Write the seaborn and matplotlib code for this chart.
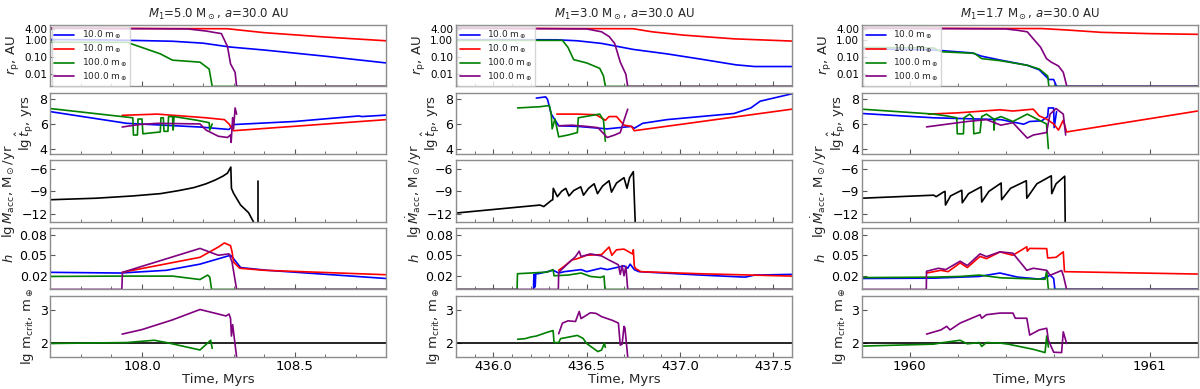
import numpy as np
import matplotlib
matplotlib.use("Agg")
import matplotlib.pyplot as plt
from matplotlib.ticker import FormatStrFormatter, AutoMinorLocator, NullLocator
import seaborn as sns

# ── panel text / axes ranges ────────────────────────────────────────────────
titles = [r"$M_1$=5.0 M$_\odot$, $a$=30.0 AU",
          r"$M_1$=3.0 M$_\odot$, $a$=30.0 AU",
          r"$M_1$=1.7 M$_\odot$, $a$=30.0 AU"]
xlims = [(107.70, 108.80), (435.80, 437.60), (1959.80, 1961.20)]
xticks = [[108.0, 108.5], [436.0, 436.5, 437.0, 437.5], [1960, 1961]]
xticklabels = [["108.0", "108.5"], ["436.0", "436.5", "437.0", "437.5"], ["1960", "1961"]]
legend_labels = [r"10.0 m$_\oplus$", r"10.0 m$_\oplus$", r"100.0 m$_\oplus$", r"100.0 m$_\oplus$"]
ylabels = [r"$r_{\rm p}$, AU", r"$\lg\hat{t}_{\rm p}$, yrs",
           r"$\lg\dot{M}_{\rm acc}$, M$_\odot$/yr", r"$h$",
           r"$\lg\,$m$_{\rm crit}$, m$_\oplus$"]
ylims = [(0.002, 7.0), (3.55, 8.55), (-13.0, -4.9), (0.0, 0.09), (1.55, 3.45)]
yticks = [[0.01, 0.1, 1.0, 4.0], [4, 6, 8], [-12, -9, -6], [0.02, 0.05, 0.08], [2, 3]]
m_crit_ref = 2.0

# ── column 1: M1 = 5.0 ──────────────────────────────────────────────────────
c1_rp_blue = [(107.70, 1.0), (107.90, 0.95), (108.10, 0.8), (108.20, 0.62), (108.29, 0.37),
              (108.40, 0.25), (108.60, 0.11), (108.80, 0.045)]
c1_rp_red = [(107.70, 4.5), (108.28, 4.2), (108.40, 2.5), (108.60, 1.4), (108.80, 0.85)]
c1_rp_green = [(107.70, 0.7), (107.95, 0.7), (108.00, 0.35), (108.06, 0.15), (108.10, 0.065),
               (108.19, 0.05), (108.22, 0.02), (108.23, 0.002), (108.80, 0.002)]
c1_rp_purple = [(107.70, 4.5), (108.15, 4.1), (108.21, 3.1), (108.26, 2.2), (108.28, 0.4),
                (108.29, 0.04), (108.305, 0.013), (108.31, 0.002), (108.80, 0.002)]

c1_tp_blue = [(107.70, 7.0), (107.95, 6.05), (108.19, 5.75), (108.285, 5.55), (108.30, 5.95),
              (108.50, 6.2), (108.71, 6.65), (108.72, 6.6), (108.80, 6.72)]
c1_tp_red = [(107.935, 6.7), (108.05, 6.8), (108.21, 6.5), (108.27, 6.35), (108.285, 6.0),
             (108.295, 5.6), (108.30, 5.45), (108.80, 6.35)]
c1_tp_green = [(107.70, 7.25), (107.97, 6.5), (107.972, 5.1), (107.985, 5.1), (107.987, 6.4),
               (108.00, 6.4), (108.003, 5.2), (108.06, 5.35), (108.062, 6.5), (108.07, 6.5),
               (108.072, 5.4), (108.085, 5.4), (108.087, 6.6), (108.10, 6.6), (108.102, 5.5),
               (108.105, 6.6), (108.18, 6.3), (108.22, 6.1), (108.222, 5.5), (108.23, 6.0)]
c1_tp_purple = [(107.935, 5.75), (107.99, 5.95), (108.05, 6.05), (108.19, 6.0), (108.21, 5.5),
                (108.25, 5.0), (108.28, 4.9), (108.29, 5.1), (108.292, 4.5), (108.297, 6.5),
                (108.30, 5.6), (108.305, 7.3), (108.31, 6.8)]

c1_mdot = [(107.70, -10.1), (107.85, -9.9), (107.97, -9.6), (108.06, -9.3), (108.12, -8.9),
           (108.17, -8.5), (108.21, -8.0), (108.24, -7.5), (108.265, -7.0), (108.28, -6.6),
           (108.291, -5.8), (108.293, -8.6), (108.30, -9.25), (108.323, -10.8),
           (108.349, -11.8), (108.365, -13.0)]
c1_mdot_tail = [(108.381, -7.6), (108.381, -13.0)]

c1_h_blue = [(107.70, 0.025), (107.93, 0.024), (108.08, 0.028), (108.19, 0.037), (108.29, 0.050),
             (108.30, 0.045), (108.323, 0.032), (108.41, 0.028), (108.80, 0.016)]
c1_h_red = [(107.935, 0.025), (108.19, 0.047), (108.25, 0.062), (108.27, 0.068), (108.29, 0.064),
            (108.295, 0.055), (108.30, 0.040), (108.32, 0.031), (108.40, 0.028), (108.80, 0.0215)]
c1_h_green = [(107.70, 0.019), (107.93, 0.0195), (108.10, 0.0195), (108.19, 0.0145), (108.215, 0.021),
              (108.222, 0.018), (108.228, 0.0), (108.80, 0.0)]
c1_h_purple = [(107.70, 0.0), (107.934, 0.0), (107.936, 0.025), (108.19, 0.060), (108.25, 0.050),
               (108.285, 0.052), (108.295, 0.040), (108.31, 0.0), (108.80, 0.0)]

c1_m_green = [(107.70, 1.97), (107.95, 2.0), (108.04, 2.07), (108.08, 2.0), (108.19, 1.77),
              (108.225, 2.07), (108.23, 1.82)]
c1_m_purple = [(107.935, 2.26), (108.00, 2.4), (108.10, 2.7), (108.19, 3.02), (108.25, 2.88),
               (108.275, 2.82), (108.285, 2.88), (108.29, 2.75), (108.293, 2.2), (108.297, 2.55),
               (108.31, 1.55)]

# ── column 2: M1 = 3.0 ──────────────────────────────────────────────────────
c2_rp_blue = [(435.80, 1.0), (436.34, 0.97), (436.45, 0.85), (436.58, 0.6), (436.75, 0.27),
              (436.93, 0.15), (437.11, 0.075), (437.30, 0.035), (437.40, 0.028), (437.60, 0.028)]
c2_rp_red = [(435.80, 4.5), (436.75, 4.2), (436.85, 2.8), (437.02, 1.8), (437.29, 1.1), (437.60, 0.82)]
c2_rp_green = [(435.80, 0.9), (436.37, 0.9), (436.40, 0.35), (436.43, 0.07), (436.50, 0.045),
               (436.57, 0.022), (436.59, 0.008), (436.60, 0.002), (437.60, 0.002)]
c2_rp_purple = [(435.80, 4.5), (436.50, 4.1), (436.58, 2.8), (436.62, 1.5), (436.65, 0.6),
                (436.68, 0.05), (436.71, 0.01), (436.72, 0.002), (437.60, 0.002)]

c2_tp_blue = [(436.23, 8.1), (436.28, 8.2), (436.29, 8.0), (436.31, 6.8), (436.35, 5.85),
              (436.45, 5.8), (436.61, 5.6), (436.74, 5.8), (436.755, 5.65), (436.80, 6.05),
              (436.93, 6.35), (437.29, 6.85), (437.38, 7.3), (437.43, 7.85), (437.60, 8.45)]
c2_tp_red = [(436.34, 6.8), (436.45, 6.8), (436.55, 6.75), (436.60, 6.3), (436.62, 6.6),
             (436.66, 6.6), (436.70, 5.9), (436.74, 5.8), (436.755, 5.45), (437.60, 7.2)]
c2_tp_green = [(436.13, 7.3), (436.25, 7.4), (436.30, 7.5), (436.31, 6.8), (436.315, 5.6),
               (436.33, 6.4), (436.35, 4.95), (436.40, 5.1), (436.45, 5.3), (436.455, 6.5),
               (436.53, 6.7), (436.57, 6.8), (436.59, 6.3), (436.60, 4.6)]
c2_tp_purple = [(436.35, 5.85), (436.42, 5.9), (436.50, 5.8), (436.56, 5.7), (436.61, 4.9),
                (436.65, 5.1), (436.68, 5.3), (436.70, 6.3), (436.72, 7.2)]

c2_mdot = [(435.80, -11.85), (436.25, -10.8), (436.27, -11.0), (436.31, -10.2), (436.318, -10.1),
           (436.321, -8.6), (436.343, -9.7), (436.365, -9.0), (436.388, -8.6), (436.405, -9.6),
           (436.43, -8.9), (436.468, -8.4), (436.483, -9.5), (436.51, -8.6), (436.54, -8.0),
           (436.558, -9.3), (436.585, -8.3), (436.62, -7.6), (436.633, -9.1), (436.66, -7.9),
           (436.70, -7.2), (436.716, -8.6), (436.73, -7.2), (436.75, -6.4), (436.76, -13.0)]

c2_h_blue = [(436.215, 0.0), (436.217, 0.022), (436.219, 0.003), (436.222, 0.022), (436.224, 0.004),
             (436.227, 0.023), (436.24, 0.023), (436.29, 0.026), (436.32, 0.028), (436.35, 0.024),
             (436.38, 0.026), (436.47, 0.029), (436.50, 0.026), (436.576, 0.031), (436.61, 0.029),
             (436.70, 0.0345), (436.72, 0.031), (436.733, 0.037), (436.755, 0.029), (436.78, 0.026),
             (437.11, 0.021), (437.35, 0.018), (437.40, 0.021), (437.60, 0.022)]
c2_h_red = [(436.35, 0.028), (436.38, 0.034), (436.42, 0.043), (436.45, 0.045), (436.50, 0.050),
            (436.58, 0.051), (436.62, 0.062), (436.635, 0.050), (436.66, 0.058), (436.70, 0.059),
            (436.745, 0.052), (436.75, 0.058), (436.755, 0.035), (436.76, 0.031), (436.79, 0.026),
            (437.10, 0.023), (437.60, 0.0195)]
c2_h_green = [(435.80, 0.0), (436.127, 0.0), (436.129, 0.023), (436.20, 0.024), (436.29, 0.0255),
              (436.32, 0.029), (436.325, 0.020), (436.40, 0.021), (436.47, 0.024), (436.52, 0.019),
              (436.575, 0.0175), (436.593, 0.0195), (436.598, 0.0), (437.60, 0.0)]
c2_h_purple = [(435.80, 0.0), (436.348, 0.0), (436.35, 0.025), (436.40, 0.038), (436.44, 0.048),
               (436.46, 0.056), (436.47, 0.048), (436.52, 0.052), (436.58, 0.049), (436.62, 0.043),
               (436.67, 0.036), (436.68, 0.022), (436.69, 0.035), (436.70, 0.020), (436.71, 0.034),
               (436.72, 0.0), (437.60, 0.0)]

c2_m_green = [(436.13, 2.1), (436.17, 2.12), (436.20, 2.17), (436.23, 2.2), (436.29, 2.32),
              (436.32, 2.37), (436.325, 2.0), (436.35, 2.0), (436.36, 2.12), (436.45, 2.22),
              (436.48, 2.13), (436.50, 1.97), (436.56, 1.72), (436.58, 1.77), (436.595, 1.98),
              (436.60, 1.85)]
c2_m_purple = [(436.35, 2.27), (436.37, 2.6), (436.40, 2.67), (436.44, 2.65), (436.46, 2.96),
               (436.47, 2.74), (436.52, 2.92), (436.55, 2.9), (436.58, 2.8), (436.64, 2.68),
               (436.67, 2.6), (436.68, 1.92), (436.69, 1.95), (436.70, 2.5), (436.705, 2.45),
               (436.72, 1.55)]

# ── column 3: M1 = 1.7 ──────────────────────────────────────────────────────
c3_rp_blue = [(1959.8, 0.3), (1960.10, 0.25), (1960.26, 0.17), (1960.30, 0.11), (1960.38, 0.065),
              (1960.49, 0.033), (1960.54, 0.018), (1960.58, 0.005), (1960.60, 0.005),
              (1960.612, 0.002), (1961.2, 0.002)]
c3_rp_red = [(1959.8, 4.5), (1960.55, 4.3), (1960.65, 3.6), (1960.80, 2.6), (1961.0, 2.2), (1961.2, 2.0)]
c3_rp_green = [(1959.8, 0.35), (1960.10, 0.33), (1960.13, 0.2), (1960.27, 0.16), (1960.30, 0.08),
               (1960.38, 0.06), (1960.49, 0.033), (1960.54, 0.02), (1960.575, 0.008),
               (1960.58, 0.002), (1961.2, 0.002)]
c3_rp_purple = [(1959.8, 4.5), (1960.40, 4.1), (1960.45, 3.4), (1960.49, 2.8), (1960.515, 1.1),
                (1960.545, 0.37), (1960.57, 0.08), (1960.59, 0.05), (1960.62, 0.03), (1960.64, 0.013),
                (1960.655, 0.002), (1961.2, 0.002)]

c3_tp_blue = [(1959.8, 6.85), (1960.10, 6.5), (1960.38, 6.35), (1960.475, 5.98), (1960.50, 6.2),
              (1960.55, 6.25), (1960.575, 6.6), (1960.578, 7.3), (1960.60, 7.3), (1960.602, 5.7),
              (1960.612, 7.0)]
c3_tp_red = [(1960.078, 6.8), (1960.20, 6.9), (1960.376, 7.15), (1960.43, 7.05), (1960.515, 7.2),
             (1960.54, 6.65), (1960.57, 6.4), (1960.60, 6.0), (1960.62, 5.5), (1960.64, 6.3),
             (1960.654, 5.35), (1961.2, 7.05)]
c3_tp_green = [(1959.8, 7.2), (1960.10, 6.8), (1960.154, 6.65), (1960.196, 6.5), (1960.198, 5.2),
               (1960.224, 5.2), (1960.226, 6.5), (1960.25, 6.8), (1960.265, 6.5), (1960.267, 5.2),
               (1960.293, 5.3), (1960.30, 6.6), (1960.32, 6.8), (1960.35, 6.4), (1960.351, 5.5),
               (1960.355, 6.4), (1960.38, 6.6), (1960.43, 6.2), (1960.49, 6.8), (1960.54, 6.3),
               (1960.57, 6.0), (1960.578, 4.0)]
c3_tp_purple = [(1960.07, 5.76), (1960.24, 6.2), (1960.32, 6.35), (1960.38, 5.9), (1960.43, 6.1),
                (1960.49, 4.85), (1960.515, 5.1), (1960.57, 5.3), (1960.585, 6.8), (1960.61, 7.25),
                (1960.64, 6.8), (1960.65, 5.1)]

c3_mdot = [(1959.8, -9.9), (1960.10, -9.5), (1960.11, -9.7), (1960.14, -9.1), (1960.147, -9.0),
           (1960.149, -10.8), (1960.17, -9.6), (1960.217, -8.85), (1960.219, -10.5), (1960.245, -9.3),
           (1960.298, -8.4), (1960.30, -10.4), (1960.33, -9.0), (1960.381, -7.9), (1960.383, -10.1),
           (1960.42, -8.6), (1960.486, -7.6), (1960.488, -9.9), (1960.53, -8.0), (1960.590, -6.95),
           (1960.592, -9.3), (1960.61, -8.0), (1960.646, -7.0), (1960.648, -13.0)]

c3_h_blue = [(1959.8, 0.016), (1960.10, 0.0165), (1960.29, 0.019), (1960.376, 0.024), (1960.45, 0.018),
             (1960.515, 0.016), (1960.54, 0.015), (1960.571, 0.018), (1960.585, 0.021), (1960.60, 0.016),
             (1960.605, 0.0), (1961.2, 0.0)]
c3_h_red = [(1960.07, 0.024), (1960.13, 0.028), (1960.16, 0.026), (1960.21, 0.0388), (1960.24, 0.032),
            (1960.293, 0.0483), (1960.32, 0.045), (1960.376, 0.0549), (1960.43, 0.050),
            (1960.488, 0.0624), (1960.49, 0.056), (1960.50, 0.060), (1960.571, 0.0597),
            (1960.575, 0.046), (1960.61, 0.047), (1960.64, 0.055), (1960.645, 0.026), (1961.2, 0.0225)]
c3_h_green = [(1959.8, 0.0173), (1960.10, 0.018), (1960.21, 0.019), (1960.29, 0.021), (1960.38, 0.017),
              (1960.515, 0.0153), (1960.564, 0.0148), (1960.571, 0.027), (1960.578, 0.0), (1961.2, 0.0)]
c3_h_purple = [(1959.8, 0.0), (1960.069, 0.0), (1960.07, 0.0266), (1960.12, 0.031), (1960.15, 0.029),
               (1960.21, 0.0413), (1960.24, 0.035), (1960.293, 0.052), (1960.32, 0.048),
               (1960.376, 0.055), (1960.43, 0.053), (1960.488, 0.028), (1960.515, 0.031),
               (1960.571, 0.028), (1960.585, 0.0207), (1960.633, 0.0277), (1960.64, 0.0207),
               (1960.654, 0.0), (1961.2, 0.0)]

c3_m_green = [(1959.8, 1.89), (1960.10, 1.95), (1960.14, 2.0), (1960.21, 2.07), (1960.24, 1.96),
              (1960.29, 2.0), (1960.30, 1.88), (1960.32, 2.0), (1960.38, 1.98), (1960.41, 1.95),
              (1960.515, 1.79), (1960.564, 1.69), (1960.571, 2.2), (1960.578, 1.86)]
c3_m_purple = [(1960.07, 2.26), (1960.13, 2.39), (1960.154, 2.5), (1960.168, 2.39), (1960.21, 2.6),
               (1960.293, 2.86), (1960.30, 2.75), (1960.32, 2.86), (1960.376, 2.91), (1960.43, 2.91),
               (1960.44, 2.75), (1960.488, 2.75), (1960.50, 2.23), (1960.54, 2.39), (1960.571, 2.44),
               (1960.578, 2.07), (1960.60, 1.7), (1960.633, 1.69), (1960.64, 2.33), (1960.654, 1.97)]

# ── grouping by row ─────────────────────────────────────────────────────────
COLORS = ["blue", "red", "green", "purple"]
rp_sets = [[c1_rp_blue, c1_rp_red, c1_rp_green, c1_rp_purple],
           [c2_rp_blue, c2_rp_red, c2_rp_green, c2_rp_purple],
           [c3_rp_blue, c3_rp_red, c3_rp_green, c3_rp_purple]]
tp_sets = [[c1_tp_blue, c1_tp_red, c1_tp_green, c1_tp_purple],
           [c2_tp_blue, c2_tp_red, c2_tp_green, c2_tp_purple],
           [c3_tp_blue, c3_tp_red, c3_tp_green, c3_tp_purple]]
mdot_sets = [[c1_mdot, c1_mdot_tail], [c2_mdot], [c3_mdot]]
h_sets = [[c1_h_blue, c1_h_red, c1_h_green, c1_h_purple],
          [c2_h_blue, c2_h_red, c2_h_green, c2_h_purple],
          [c3_h_blue, c3_h_red, c3_h_green, c3_h_purple]]
m_sets = [[c1_m_green, c1_m_purple], [c2_m_green, c2_m_purple], [c3_m_green, c3_m_purple]]

# ── style ───────────────────────────────────────────────────────────────────
sns.set_style("ticks")
plt.rcParams.update({
    "font.family": ["DejaVu Sans"],
    "font.size": 9,
    "axes.edgecolor": "0.55",
    "axes.linewidth": 1.0,
    "xtick.direction": "in",
    "ytick.direction": "in",
    "xtick.color": "0.35",
    "ytick.color": "0.35",
    "xtick.labelcolor": "black",
    "ytick.labelcolor": "black",
    "xtick.labelsize": 9.5,
    "ytick.labelsize": 9,
    "axes.labelsize": 9.5,
    "mathtext.default": "it",
})

LW = 1.2


def draw(ax, pts, color, label=None):
    arr = np.array(pts)
    sns.lineplot(x=arr[:, 0], y=arr[:, 1], color=color, lw=LW, estimator=None,
                 sort=False, ax=ax, label=label, legend=False)


fig, axes = plt.subplots(5, 3, figsize=(12, 3.89), dpi=100, sharex="col",
                         gridspec_kw=dict(left=0.042, right=0.998, top=0.936,
                                          bottom=0.082, hspace=0.1, wspace=0.208))

for c in range(3):
    ax_r, ax_t, ax_m, ax_h, ax_c = axes[:, c]

    ax_r.set_yscale("log")
    for pts, col, lab in zip(rp_sets[c], COLORS, legend_labels):
        draw(ax_r, pts, col, lab)
    ax_r.legend(loc="upper left", fontsize=6.5, framealpha=0.8, borderpad=0.3,
                labelspacing=0.15, borderaxespad=0.15, handlelength=2.2,
                handletextpad=0.8)
    ax_r.set_title(titles[c], fontsize=8.5, pad=5)

    for pts, col in zip(tp_sets[c], COLORS):
        draw(ax_t, pts, col)

    for pts in mdot_sets[c]:
        draw(ax_m, pts, "black")

    for pts, col in zip(h_sets[c], COLORS):
        draw(ax_h, pts, col)

    ax_c.axhline(m_crit_ref, color="black", lw=LW)
    for pts, col in zip(m_sets[c], ["green", "purple"]):
        draw(ax_c, pts, col)

    for r, ax in enumerate(axes[:, c]):
        ax.set_ylim(*ylims[r])
        ax.set_yticks(yticks[r])
        ax.set_ylabel(ylabels[r], labelpad=2.5)
        ax.set_xlim(*xlims[c])
        ax.xaxis.set_minor_locator(AutoMinorLocator())
        if r == 0:
            ax.yaxis.set_major_formatter(FormatStrFormatter("%.2f"))
            ax.yaxis.set_minor_locator(NullLocator())
            ax.tick_params(axis="y", labelsize=7.5)
        elif r == 3:
            ax.yaxis.set_major_formatter(FormatStrFormatter("%.2f"))
        ax.tick_params(which="major", length=3.5, width=0.8, pad=2)
        ax.tick_params(which="minor", length=2, width=0.6)

    ax_c.set_xticks(xticks[c])
    ax_c.set_xticklabels(xticklabels[c])
    ax_c.set_xlabel("Time, Myrs", labelpad=0)

fig.savefig("out.png", dpi=100)
